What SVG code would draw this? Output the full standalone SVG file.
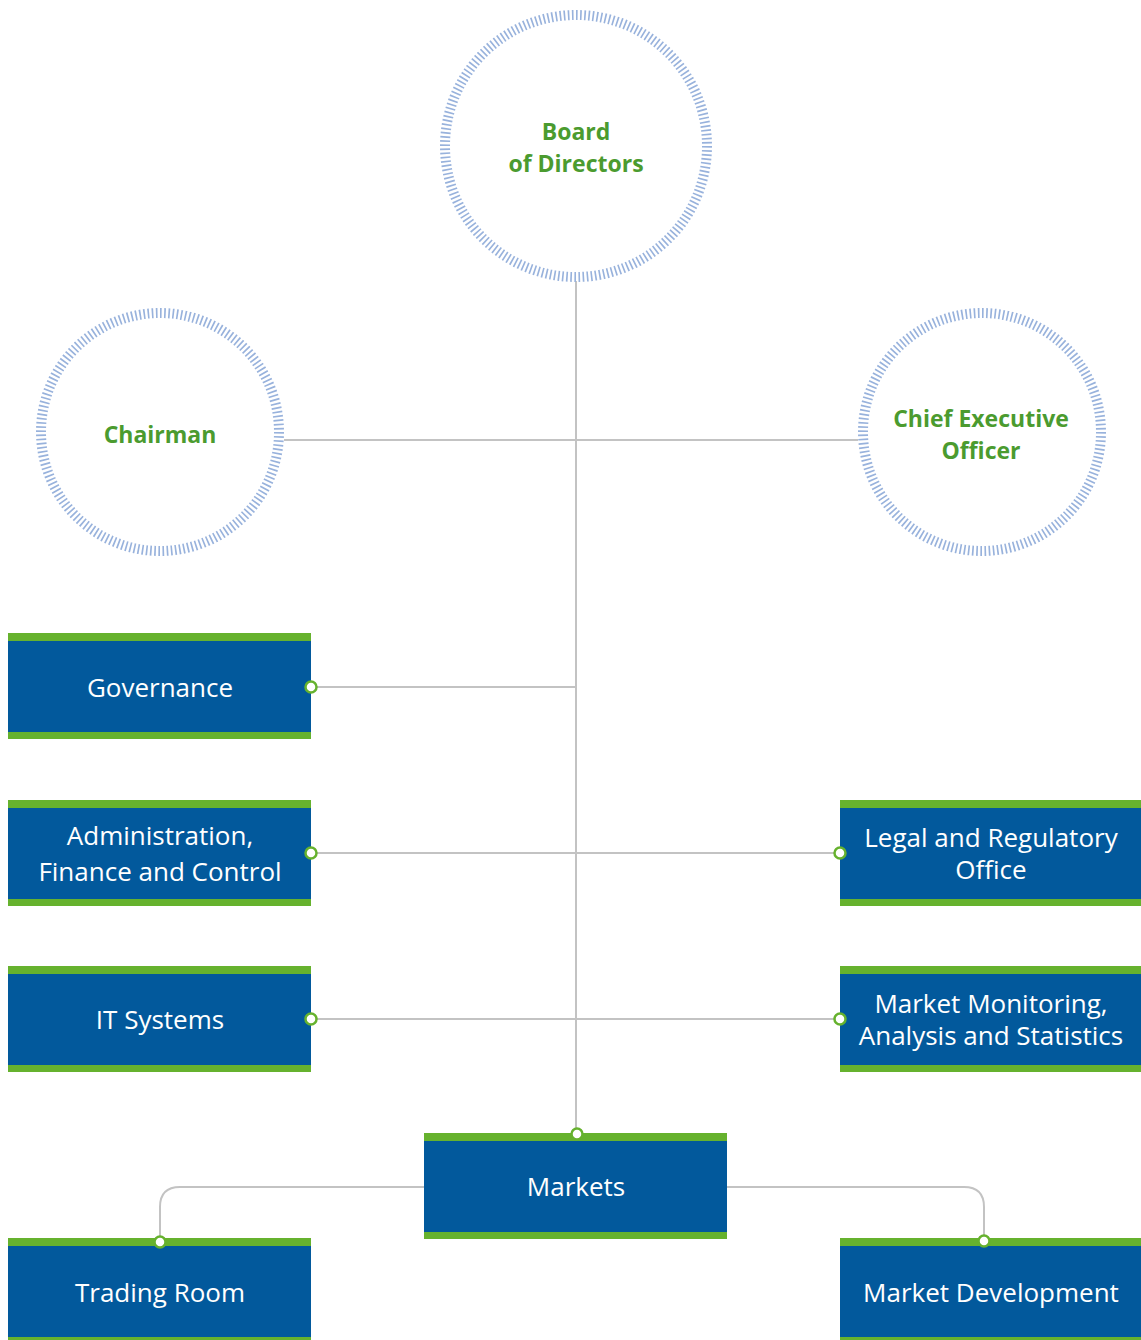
<svg xmlns="http://www.w3.org/2000/svg" width="1141" height="1340" viewBox="0 0 1141 1340">
<style>
.ring{fill:none;stroke:#98b2dc;stroke-width:10;stroke-dasharray:0.4 0.6}
.ct{font-family:"Open Sans","Liberation Sans",sans-serif;font-weight:bold;font-size:23px;fill:#4b9b2f;text-anchor:middle}
.bx{fill:#02599c}
.gb{fill:#66b22e}
.bt{font-family:"Open Sans","Liberation Sans",sans-serif;font-size:26px;fill:#ffffff;text-anchor:middle}
.ln{fill:none;stroke:#c3c3c3;stroke-width:2}
.dot{fill:#ffffff;stroke:#66b22e;stroke-width:2.5}
</style>
<rect width="1141" height="1340" fill="#ffffff"/>
<g id="connectors">
<path class="ln" d="M576 281 V1133"/>
<path class="ln" d="M284 440 H858"/>
<path class="ln" d="M311 687 H576"/>
<path class="ln" d="M311 853 H840"/>
<path class="ln" d="M311 1019 H840"/>
<path class="ln" d="M424 1187 H180 Q160 1187 160 1207 V1242"/>
<path class="ln" d="M727 1187 H964 Q984 1187 984 1207 V1241"/>
</g>
<g id="board">
<circle class="ring" cx="576" cy="146" r="131" pathLength="200" transform="rotate(90 576 146)"/>
<text class="ct" x="576" y="140">Board</text>
<text class="ct" x="576" y="172">of Directors</text>
</g>
<g id="chairman">
<circle class="ring" cx="160" cy="432" r="119" pathLength="180" transform="rotate(90 160 432)"/>
<text class="ct" x="160" y="443">Chairman</text>
</g>
<g id="ceo">
<circle class="ring" cx="982" cy="432" r="119" pathLength="180" transform="rotate(90 982 432)"/>
<text class="ct" x="981" y="427">Chief Executive</text>
<text class="ct" x="981" y="459">Officer</text>
</g>
<g id="governance">
<rect class="bx" x="8" y="633" width="303" height="106"/>
<rect class="gb" x="8" y="633" width="303" height="8"/>
<rect class="gb" x="8" y="732" width="303" height="7"/>
<text class="bt" x="160" y="697">Governance</text>
<circle class="dot" cx="311" cy="687" r="5.5"/>
</g>
<g id="admin">
<rect class="bx" x="8" y="800" width="303" height="106"/>
<rect class="gb" x="8" y="800" width="303" height="8"/>
<rect class="gb" x="8" y="899" width="303" height="7"/>
<text class="bt" x="160" y="845">Administration,</text>
<text class="bt" x="160" y="881">Finance and Control</text>
<circle class="dot" cx="311" cy="853" r="5.5"/>
</g>
<g id="it">
<rect class="bx" x="8" y="966" width="303" height="106"/>
<rect class="gb" x="8" y="966" width="303" height="8"/>
<rect class="gb" x="8" y="1065" width="303" height="7"/>
<text class="bt" x="160" y="1029">IT Systems</text>
<circle class="dot" cx="311" cy="1019" r="5.5"/>
</g>
<g id="legal">
<rect class="bx" x="840" y="800" width="301" height="106"/>
<rect class="gb" x="840" y="800" width="301" height="8"/>
<rect class="gb" x="840" y="899" width="301" height="7"/>
<text class="bt" x="991" y="847">Legal and Regulatory</text>
<text class="bt" x="991" y="879">Office</text>
<circle class="dot" cx="840" cy="853" r="5.5"/>
</g>
<g id="monitoring">
<rect class="bx" x="840" y="966" width="301" height="106"/>
<rect class="gb" x="840" y="966" width="301" height="8"/>
<rect class="gb" x="840" y="1065" width="301" height="7"/>
<text class="bt" x="991" y="1013">Market Monitoring,</text>
<text class="bt" x="991" y="1045">Analysis and Statistics</text>
<circle class="dot" cx="840" cy="1019" r="5.5"/>
</g>
<g id="markets">
<rect class="bx" x="424" y="1133" width="303" height="106"/>
<rect class="gb" x="424" y="1133" width="303" height="8"/>
<rect class="gb" x="424" y="1232" width="303" height="7"/>
<text class="bt" x="576" y="1196">Markets</text>
<circle class="dot" cx="577" cy="1134" r="5.5"/>
</g>
<g id="trading">
<rect class="bx" x="8" y="1238" width="303" height="102"/>
<rect class="gb" x="8" y="1238" width="303" height="8"/>
<rect class="gb" x="8" y="1337" width="303" height="3"/>
<text class="bt" x="160" y="1302">Trading Room</text>
<circle class="dot" cx="160" cy="1242" r="5.5"/>
</g>
<g id="development">
<rect class="bx" x="840" y="1238" width="301" height="102"/>
<rect class="gb" x="840" y="1238" width="301" height="8"/>
<rect class="gb" x="840" y="1337" width="301" height="3"/>
<text class="bt" x="991" y="1302">Market Development</text>
<circle class="dot" cx="984" cy="1241" r="5.5"/>
</g>
</svg>
